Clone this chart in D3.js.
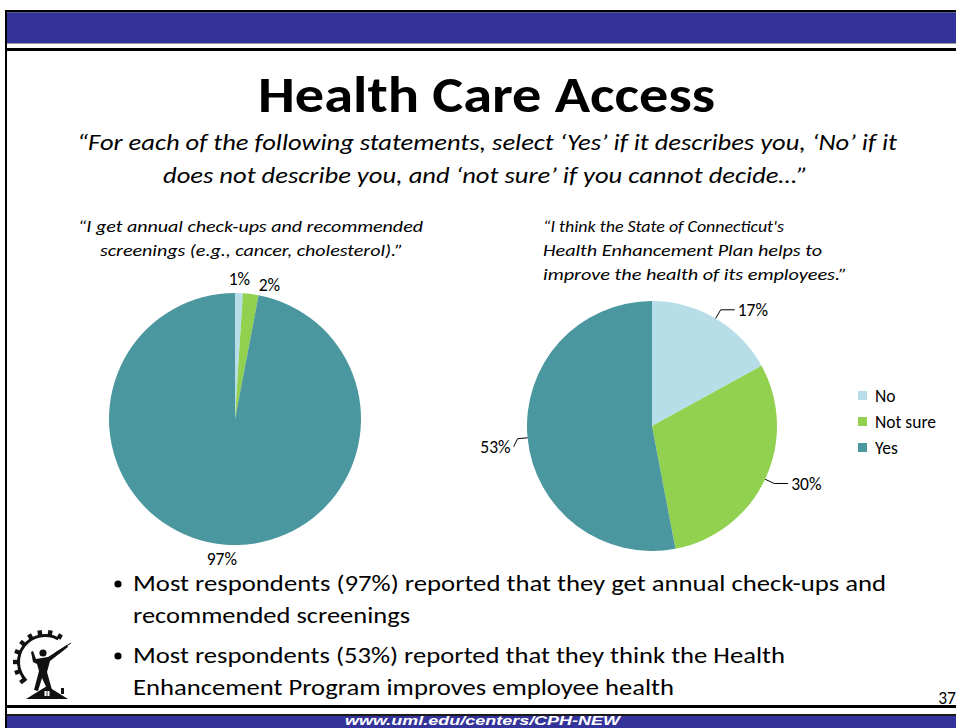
<!DOCTYPE html>
<html>
<head>
<meta charset="utf-8">
<script src="https://cdn.jsdelivr.net/npm/d3@7"></script>
<style>
  html, body { margin: 0; padding: 0; background: #fff; }
  svg { display: block; }
</style>
</head>
<body>
<script>
// ---- Survey data ----
const categories = ["No", "Not sure", "Yes"];
const checkupValues = [1, 2, 97];      // "I get annual check-ups ..."
const planValues = [17, 30, 53];       // "I think the State of Connecticut's ..."
const sliceColors = ["#B7DEE8", "#92D050", "#4A979F"];

const titleText = "Health Care Access";
const subtitleLines = [
  "\u201cFor each of the following statements, select \u2018Yes\u2019 if it describes you, \u2018No\u2019 if it",
  "does not describe you, and \u2018not sure\u2019 if you cannot decide\u2026\u201d"
];
const checkupTitle = [
  "\u201cI get annual check-ups and recommended",
  "screenings (e.g., cancer, cholesterol).\u201d"
];
const planTitle = [
  "\u201cI think the State of Connecticut's",
  "Health Enhancement Plan helps to",
  "improve the health of its employees.\u201d"
];
const bullets = [
  ["Most respondents (97%) reported that they get annual check-ups and", "recommended screenings"],
  ["Most respondents (53%) reported that they think the Health", "Enhancement Program improves employee health"]
];
const pageNumber = "37";
const footerUrl = "www.uml.edu/centers/CPH-NEW";

// ---- Canvas ----
const W = 956, H = 728;
const FONT = "Carlito, Lato, 'Open Sans', sans-serif";
const LABEL_SIZE = 17.5;
const svg = d3.select("body").append("svg").attr("width", W).attr("height", H);

// Slide frame and banners
const NAVY = "#333399";
svg.append("rect").attr("x", 5).attr("y", 10).attr("width", W - 5).attr("height", 2.5).attr("fill", "#000");
svg.append("rect").attr("x", 5).attr("y", 10).attr("width", 2).attr("height", H - 10).attr("fill", "#000");
svg.append("rect").attr("x", 7).attr("y", 12.5).attr("width", W - 7).attr("height", 30.5).attr("fill", NAVY);
svg.append("rect").attr("x", 7).attr("y", 43).attr("width", W - 7).attr("height", 1).attr("fill", "#9a9a9a");
svg.append("rect").attr("x", 7).attr("y", 48).attr("width", W - 7).attr("height", 3).attr("fill", "#000");
svg.append("rect").attr("x", 7).attr("y", 705).attr("width", W - 7).attr("height", 3).attr("fill", "#000");
svg.append("rect").attr("x", 7).attr("y", 714).attr("width", W - 7).attr("height", 2).attr("fill", "#1a1a1a");
svg.append("rect").attr("x", 7).attr("y", 716).attr("width", W - 7).attr("height", H - 716).attr("fill", NAVY);

// Text helper: places a line and squeezes/stretches it to the given width
function line(g, txt, x, y, opts) {
  const t = g.append("text")
    .attr("x", x).attr("y", y)
    .attr("font-family", opts.family || FONT)
    .attr("font-size", opts.size)
    .attr("font-weight", opts.weight || "normal")
    .attr("font-style", opts.style || "normal")
    .attr("fill", opts.fill || "#000")
    .attr("text-anchor", opts.anchor || "start")
    .text(txt);
  if (opts.width) t.attr("textLength", opts.width).attr("lengthAdjust", "spacingAndGlyphs");
  return t;
}

// Title and question text
line(svg, titleText, 486.5, 112, { size: 50, weight: "bold", anchor: "middle", width: 457 });
line(svg, subtitleLines[0], 487, 150, { size: 23, style: "italic", anchor: "middle", width: 820 });
line(svg, subtitleLines[1], 485.5, 183, { size: 23, style: "italic", anchor: "middle", width: 645 });

line(svg, checkupTitle[0], 250.5, 232, { size: 16.5, style: "italic", anchor: "middle", width: 345 });
line(svg, checkupTitle[1], 251.5, 256, { size: 16.5, style: "italic", anchor: "middle", width: 303 });

line(svg, planTitle[0], 543, 232, { size: 16.5, style: "italic", width: 241 });
line(svg, planTitle[1], 543, 256, { size: 16.5, style: "italic", width: 279 });
line(svg, planTitle[2], 543, 280, { size: 16.5, style: "italic", width: 304 });

// ---- Pies ----
const pie = d3.pie().sort(null).value(d => d.value).startAngle(0).endAngle(2 * Math.PI);
const toRows = vals => categories.map((c, i) => ({ category: c, value: vals[i], color: sliceColors[i] }));
const polar = (a, r) => [Math.sin(a) * r, -Math.cos(a) * r];

// Left pie: labels floated outside, nudged apart when they collide
{
  const R = 126, cx = 235, cy = 419;
  const g = svg.append("g").attr("transform", `translate(${cx},${cy})`);
  const arcs = pie(toRows(checkupValues));
  const arc = d3.arc().innerRadius(0).outerRadius(R);
  g.selectAll("path.slice").data(arcs).join("path")
    .attr("class", "slice").attr("d", arc).attr("fill", d => d.data.color);

  const labelR = R + 14, labelW = 23, gap = 7;
  const pos = arcs.map(d => {
    const m = (d.startAngle + d.endAngle) / 2;
    const [x, y] = polar(m, labelR);
    return { d, x, y, m };
  });
  // separate labels that sit on the same (upper) side
  for (let i = 1; i < pos.length; i++) {
    const p = pos[i - 1], q = pos[i];
    if (Math.abs(q.y - p.y) < 14 && q.x - p.x < labelW + gap) {
      q.x = p.x + labelW + gap;
      q.y = p.y + 6;
    }
  }
  g.selectAll("text.lbl").data(pos).join("text")
    .attr("class", "lbl")
    .attr("x", p => p.x).attr("y", p => p.y).attr("dy", "0.35em")
    .attr("text-anchor", "middle")
    .attr("font-family", FONT).attr("font-size", LABEL_SIZE)
    .text(p => `${p.d.data.value}%`);
}

// Right pie: labels with leader lines
{
  const R = 125, cx = 652, cy = 426;
  const g = svg.append("g").attr("transform", `translate(${cx},${cy})`);
  const arcs = pie(toRows(planValues));
  const arc = d3.arc().innerRadius(0).outerRadius(R);
  g.selectAll("path.slice").data(arcs).join("path")
    .attr("class", "slice").attr("d", arc).attr("fill", d => d.data.color);

  const elbowR = R * 1.08, tail = 14;
  const lab = arcs.map(d => {
    const m = (d.startAngle + d.endAngle) / 2;
    const e = polar(m, R), k = polar(m, elbowR);
    const side = Math.sin(m) >= 0 ? 1 : -1;
    // short tail when the slice midpoint is almost level with the centre
    const len = Math.abs(Math.cos(m)) < 0.2 ? 4 : tail;
    const tEnd = [k[0] + side * len, k[1] + (len === 4 ? 8 : 0)];
    return { d, e, k, tEnd, side };
  });
  g.selectAll("path.leader").data(lab).join("path")
    .attr("class", "leader")
    .attr("d", p => d3.line()([p.e, p.k, p.tEnd]))
    .attr("fill", "none").attr("stroke", "#000").attr("stroke-width", 1);
  g.selectAll("text.lbl").data(lab).join("text")
    .attr("class", "lbl")
    .attr("x", p => p.tEnd[0] + p.side * 3).attr("y", p => p.tEnd[1]).attr("dy", "0.35em")
    .attr("text-anchor", p => p.side > 0 ? "start" : "end")
    .attr("font-family", FONT).attr("font-size", LABEL_SIZE)
    .text(p => `${p.d.data.value}%`);
}

// Legend
{
  const g = svg.append("g").attr("transform", "translate(858,391)");
  const items = g.selectAll("g").data(categories).join("g")
    .attr("transform", (d, i) => `translate(0,${i * 26})`);
  items.append("rect").attr("width", 9).attr("height", 9).attr("fill", (d, i) => sliceColors[i]);
  items.append("text").attr("x", 17).attr("y", 4.5).attr("dy", "0.35em")
    .attr("font-family", FONT).attr("font-size", LABEL_SIZE).text(d => d);
}

// ---- Bullet points ----
{
  const baselines = [[591, 623], [663, 695]];
  const widths = [[753, 277], [652, 541]];
  bullets.forEach((b, i) => {
    svg.append("circle").attr("cx", 118).attr("cy", baselines[i][0] - 7).attr("r", 3.6).attr("fill", "#000");
    b.forEach((txt, j) => line(svg, txt, 133, baselines[i][j], { size: 22, width: widths[i][j] }));
  });
}

// Page number and footer URL
line(svg, pageNumber, 956, 704, { size: 17.5, anchor: "end" });
line(svg, footerUrl, 345, 725, { size: 13.5, weight: "bold", style: "italic", fill: "#fff",
  family: "'Liberation Sans', Arial, sans-serif", width: 275 });

// ---- Logo: gear, figure and roof ----
{
  const g = svg.append("g").attr("fill", "#111");
  const gc = [45, 662], gr = 28;
  const gearArc = d3.arc().innerRadius(gr - 3).outerRadius(gr)
    .startAngle(-135 * Math.PI / 180).endAngle(30 * Math.PI / 180);
  g.append("path").attr("transform", `translate(${gc})`).attr("d", gearArc());
  d3.range(-130, 31, 20).forEach(a => {
    g.append("rect").attr("x", -2.2).attr("y", -gr - 4).attr("width", 4.4).attr("height", 5)
      .attr("transform", `translate(${gc}) rotate(${a})`);
  });
  // figure
  g.append("circle").attr("cx", 43).attr("cy", 653).attr("r", 3.6);
  g.append("path").attr("d",
    "M36,659 L48,657 L67,645 L68,647 L50,661 L47,672 L52,690 L48,691 L42,678 L38,691 L34,690 L39,671 L37,664 L33,662 L31,652 L33,651 Z");
  g.append("line").attr("x1", 55).attr("y1", 653).attr("x2", 71).attr("y2", 643)
    .attr("stroke", "#111").attr("stroke-width", 1);
  // roof
  g.append("path").attr("d", "M26,699 L47,686 L68,699 Z");
  g.append("rect").attr("x", 61).attr("y", 688).attr("width", 3).attr("height", 6);
  g.append("rect").attr("x", 44.5).attr("y", 691).attr("width", 5).attr("height", 5).attr("fill", "#fff");
  g.append("line").attr("x1", 47).attr("y1", 691).attr("x2", 47).attr("y2", 696).attr("stroke", "#111").attr("stroke-width", 0.8);
}
</script>
</body>
</html>
